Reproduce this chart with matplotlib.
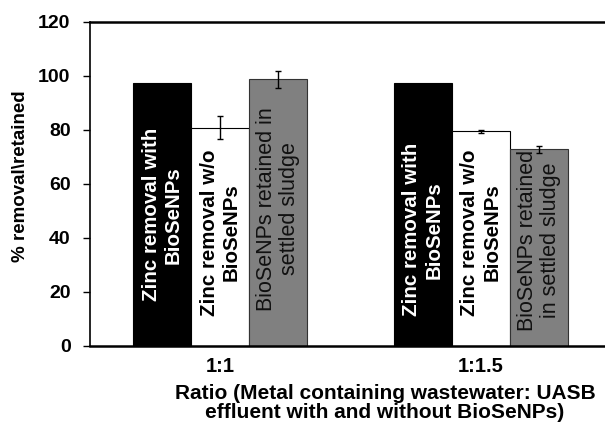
import matplotlib.pyplot as plt
import numpy as np

plt.rcParams['font.family'] = ['Liberation Sans', 'DejaVu Sans']

# data
ratios = ['1:1', '1:1.5']
zinc_with = [97.3, 97.3]
zinc_without = [80.8, 79.5]
zinc_without_err = [4.3, 0.6]
sludge = [98.8, 72.8]
sludge_err = [3.1, 1.3]

labels_with = ['Zinc removal with\nBioSeNPs', 'Zinc removal with\nBioSeNPs']
labels_without = ['Zinc removal w/o\nBioSeNPs', 'Zinc removal w/o\nBioSeNPs']
labels_sludge = ['BioSeNPs retained in\nsettled sludge', 'BioSeNPs retained\nin settled sludge']

# where the text sits inside each bar (data units)
ytxt_with = [48.5, 43]
ytxt_without = [42, 42]
ytxt_sludge = [50.7, 39]

W, H = 605, 428
fig = plt.figure(figsize=(W / 100, H / 100), dpi=100)
ax = fig.add_axes([90 / W, (H - 345.7) / H, (611 - 90) / W, (345.7 - 22) / H])

x = np.arange(len(ratios))
w = 0.2226

ax.bar(x - w, zinc_with, w, color='black', edgecolor='black', linewidth=0.8)
ax.bar(x, zinc_without, w, color='white', edgecolor='black', linewidth=0.8)
ax.bar(x + w, sludge, w, color='#808080', edgecolor='#333333', linewidth=0.8)

ax.errorbar(x, zinc_without, yerr=zinc_without_err, fmt='none', ecolor='black',
            elinewidth=1, capsize=2.5, capthick=1)
ax.errorbar(x + w, sludge, yerr=sludge_err, fmt='none', ecolor='black',
            elinewidth=1, capsize=2.5, capthick=1)

for i in range(len(ratios)):
    ax.text(x[i] - w, ytxt_with[i], labels_with[i], rotation=90, ha='center', va='center',
            multialignment='center', color='white', fontsize=14.8, fontweight='bold',
            linespacing=1.2)
    ax.text(x[i], ytxt_without[i], labels_without[i], rotation=90, ha='center', va='center',
            multialignment='center', color='black', fontsize=14.8, fontweight='bold',
            linespacing=1.2)
    ax.text(x[i] + w, ytxt_sludge[i], labels_sludge[i], rotation=90, ha='center', va='center',
            multialignment='center', color='#111111', fontsize=15.5,
            linespacing=1.1)

ax.set_xlim(-0.5, 1.5)
ax.set_ylim(0, 120)
ax.set_yticks(np.arange(0, 121, 20))
ax.set_xticks(x)
ax.set_xticklabels(ratios, fontsize=14.5, fontweight='bold')
ax.tick_params(axis='x', length=0, pad=8)
ax.tick_params(axis='y', direction='out', length=5, width=1, pad=9, labelsize=14)
for t in ax.get_yticklabels():
    t.set_fontweight('bold')

ax.spines['top'].set_linewidth(1.8)
ax.spines['bottom'].set_linewidth(1.8)
ax.spines['left'].set_linewidth(1.2)
ax.spines['right'].set_linewidth(1.2)

fig.text(21 / W, 1 - 176 / H, '% removal\\retained', rotation=90, ha='center', va='center',
         fontsize=13.5, fontweight='bold')
fig.text(385 / W, 1 - 403 / H, 'Ratio (Metal containing wastewater: UASB\neffluent with and without BioSeNPs)',
         ha='center', va='center', multialignment='center', fontsize=15, fontweight='bold',
         linespacing=1.0)

fig.savefig('out.png', dpi=100)
